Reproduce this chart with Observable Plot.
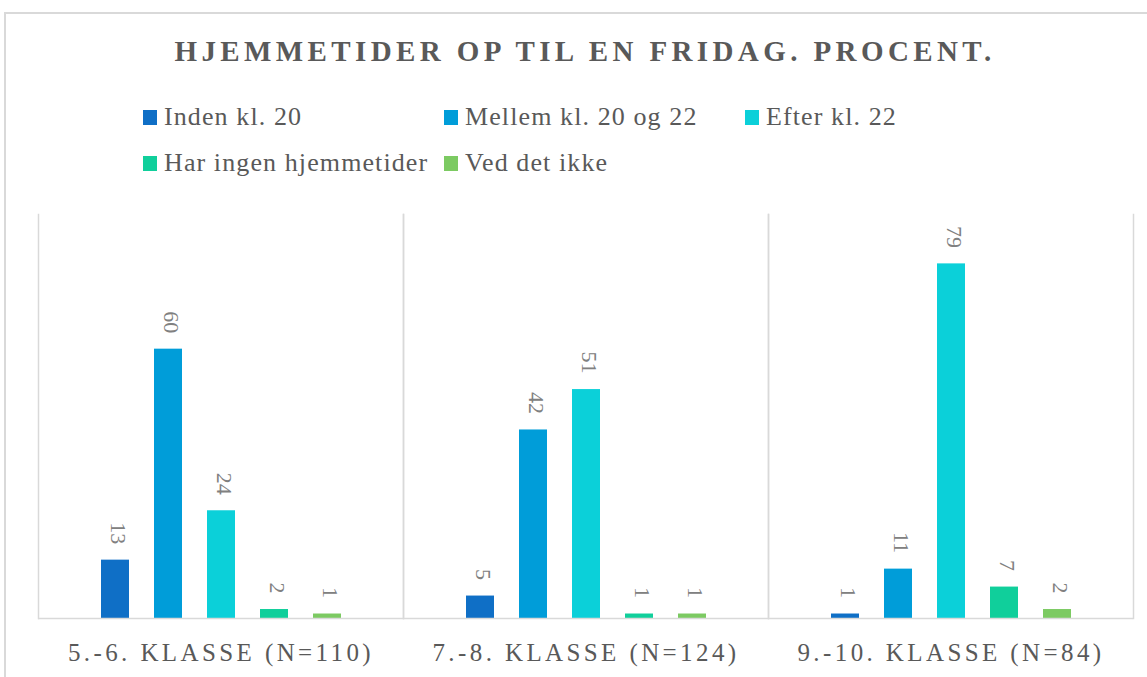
<!DOCTYPE html>
<html>
<head>
<meta charset="utf-8">
<script src="https://cdn.jsdelivr.net/npm/d3@7"></script>
<script src="https://cdn.jsdelivr.net/npm/@observablehq/plot@0.6"></script>
<style>
  html, body { margin: 0; padding: 0; background: #fff; }
  body { width: 1147px; height: 677px; overflow: hidden; position: relative; font-family: "Liberation Serif", "DejaVu Serif", serif; }
  #frame { position: absolute; left: 4px; top: 12px; width: 1170px; height: 700px; border: 2px solid #d9d9d9; box-sizing: border-box; }
  #title { position: absolute; left: 0; width: 1170px; top: 35px; text-align: center; font-size: 29px; font-weight: bold; letter-spacing: 4.4px; color: #595959; }
  .lg { position: absolute; font-size: 26px; letter-spacing: 1.1px; color: #595959; white-space: nowrap; line-height: 30px; }
  .lg span.sw { display: inline-block; width: 14px; height: 15px; margin-right: 7px; vertical-align: 0px; }
  #chart { position: absolute; left: 0; top: 200px; }
  #chart svg text { font-family: "Liberation Serif", "DejaVu Serif", serif; }
  .fxlab text { letter-spacing: 3.4px; }
</style>
</head>
<body>
<div id="frame"></div>
<div id="title">HJEMMETIDER OP TIL EN FRIDAG. PROCENT.</div>
<div id="legend"></div>
<div id="chart"></div>
<script>
const groups = ["5.-6. KLASSE (N=110)", "7.-8. KLASSE (N=124)", "9.-10. KLASSE (N=84)"];
const series = ["Inden kl. 20", "Mellem kl. 20 og 22", "Efter kl. 22", "Har ingen hjemmetider", "Ved det ikke"];
const colors = ["#0F6FC6", "#009DD9", "#0BD0D9", "#10CF9B", "#7CCA62"];
const indenKl20 = [13, 5, 1];
const mellem20og22 = [60, 42, 11];
const efterKl22 = [24, 51, 79];
const ingenHjemmetider = [2, 1, 7];
const vedDetIkke = [1, 1, 2];

const seriesValues = [indenKl20, mellem20og22, efterKl22, ingenHjemmetider, vedDetIkke];
const data = [];
groups.forEach((g, gi) => {
  series.forEach((s, si) => {
    data.push({group: g, series: s, value: seriesValues[si][gi]});
  });
});

// legend
const legendPos = [[143, 102], [444, 102], [745, 102], [143, 148], [444, 148]];
const legend = document.getElementById("legend");
series.forEach((s, i) => {
  const d = document.createElement("div");
  d.className = "lg";
  d.style.left = legendPos[i][0] + "px";
  d.style.top = legendPos[i][1] + "px";
  d.innerHTML = `<span class="sw" style="background:${colors[i]}"></span>${s}`;
  legend.appendChild(d);
});

const chart = Plot.plot({
  width: 1147,
  height: 477,
  marginTop: 14,
  marginBottom: 59,
  marginLeft: 37,
  marginRight: 14,
  fx: {domain: groups, padding: 0, label: null, axis: null},
  x: {domain: series, paddingInner: 0.475, paddingOuter: 1.16, axis: null},
  y: {domain: [0, 90], axis: null},
  color: {domain: series, range: colors},
  marks: [
    Plot.frame({anchor: "left", stroke: "#d9d9d9", strokeWidth: 1.5}),
    Plot.frame({anchor: "right", stroke: "#d9d9d9", strokeWidth: 1.5}),
    Plot.barY(data, {fx: "group", x: "series", y: "value", fill: "series"}),
    Plot.ruleY([0], {stroke: "#d9d9d9", strokeWidth: 1.5}),
    Plot.text(data, {fx: "group", x: "series", y: "value", text: d => String(d.value), rotate: 90, textAnchor: "end", dy: -16, dx: 3, fontSize: 22, fill: "#808080"}),
    Plot.axisFx({anchor: "bottom", tickSize: 0, tickPadding: 25, fontSize: 25, fill: "#595959", label: null, className: "fxlab"})
  ]
});
document.getElementById("chart").appendChild(chart);
</script>
</body>
</html>
